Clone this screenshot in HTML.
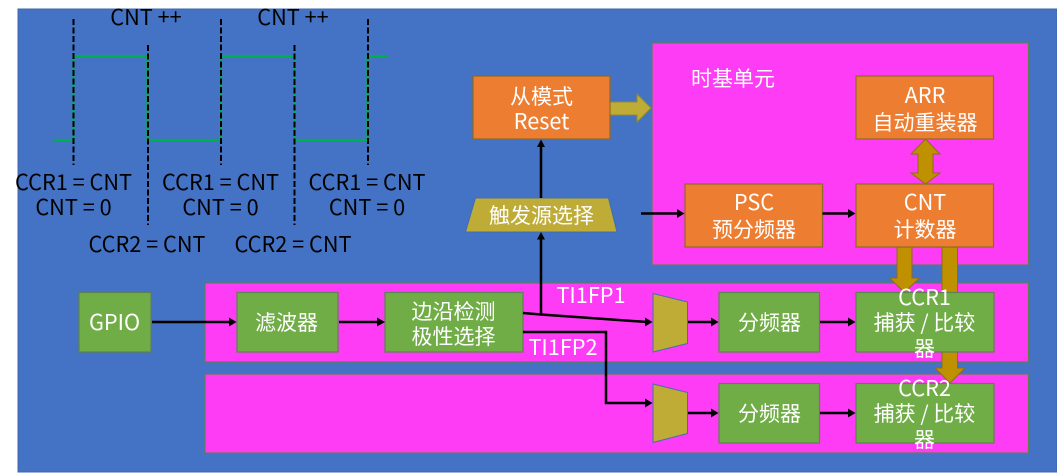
<!DOCTYPE html>
<html><head><meta charset="utf-8">
<style>
html,body{margin:0;padding:0;background:#fff;width:1057px;height:473px;overflow:hidden}
svg{display:block}
text{font-family:"Noto Sans CJK SC","Liberation Sans",sans-serif;font-size:21.7px;text-anchor:middle}
text.c{font-family:"WenQuanYi Zen Hei","Noto Sans CJK SC",sans-serif;font-size:21px}
.w{fill:#fff}.k{fill:#000}
.o{fill:#ed7d31;stroke:#8f6a22;stroke-width:1.2}
.g{fill:#70ad47;stroke:#5f7f55;stroke-width:1.2}
.m{fill:#ff3cf5;stroke:#5f7f55;stroke-width:1.2}
.t{fill:#bfac37;stroke:#3f6fb0;stroke-width:1}
.d{fill:#bf9000;stroke:#8f6a22;stroke-width:1}
.l{fill:none;stroke:#000;stroke-width:2.5}
.h{fill:#000}
.ds{stroke:#000;stroke-width:2;stroke-dasharray:6 2.5;fill:none}
</style></head><body>
<svg width="1057" height="473" viewBox="0 0 1057 473" xmlns="http://www.w3.org/2000/svg">
<rect x="18" y="9" width="1039" height="463" fill="#4472c4" stroke="#3f67ae" stroke-width="1"/>

<!-- waveform -->
<path d="M54 140H73.5V56H147.5V140H221V56H294.5V140H367.5V56H388" fill="none" stroke="#00b050" stroke-width="2.2"/>
<path class="ds" d="M73.5 19V165M148 45V225M221 19V165M294.5 45V225M368 19V165"/>
<text class="k" x="146" y="25">CNT ++</text>
<text class="k" x="293" y="25">CNT ++</text>
<text class="k" x="73.5" y="190">CCR1 = CNT</text>
<text class="k" x="73.5" y="215">CNT = 0</text>
<text class="k" x="220.5" y="190">CCR1 = CNT</text>
<text class="k" x="220.5" y="215">CNT = 0</text>
<text class="k" x="367" y="190">CCR1 = CNT</text>
<text class="k" x="367" y="215">CNT = 0</text>
<text class="k" x="147" y="252">CCR2 = CNT</text>
<text class="k" x="293" y="252">CCR2 = CNT</text>

<!-- containers -->
<rect class="m" x="652" y="43" width="376.5" height="222"/>
<rect class="m" x="205" y="283" width="823.5" height="79"/>
<rect class="m" x="205" y="374" width="823.5" height="79"/>

<!-- gold arrows behind boxes -->
<path class="t" style="stroke:#8f8a30" d="M610 102H637V94L651 108L637 122V115H610Z"/>
<path class="d" d="M925.5 139L940 154H933V173H940L925.5 184L911 173H918V154H911Z"/>
<path class="d" d="M897 247H912V278H919.5L904.5 292.5L889.5 278H897Z"/>
<path class="d" d="M942 247H957.5V368H965L950 383L935 368H942Z"/>

<!-- boxes -->
<rect class="o" x="473" y="76" width="137" height="63"/>
<text class="w c" x="541.5" y="104">从模式</text>
<text class="w" x="541.5" y="129">Reset</text>
<rect class="o" x="856" y="76" width="137.5" height="63"/>
<text class="w" x="925" y="103">ARR</text>
<text class="w c" x="925" y="130">自动重装器</text>
<rect class="o" x="685" y="184" width="137.5" height="63"/>
<text class="w" x="754" y="210">PSC</text>
<text class="w c" x="754" y="237">预分频器</text>
<rect class="o" x="856" y="184" width="137.5" height="63"/>
<text class="w" x="925" y="210">CNT</text>
<text class="w c" x="925" y="237">计数器</text>
<text class="w c" x="733" y="86">时基单元</text>

<path class="t" d="M475.5 198H608.5L617 232H465.5Z"/>
<text class="w c" x="541.5" y="223">触发源选择</text>

<rect class="g" x="79" y="292.5" width="72" height="59.5"/>
<text class="w" x="114.5" y="330">GPIO</text>
<rect class="g" x="237" y="292.5" width="101" height="59.5"/>
<text class="w c" x="286.5" y="330">滤波器</text>
<rect class="g" x="385" y="292.5" width="138" height="59.5"/>
<text class="w c" x="453.5" y="319">边沿检测</text>
<text class="w c" x="453.5" y="344">极性选择</text>

<path class="t" d="M653 293.5L687.5 302V343.5L653 352Z"/>
<path class="t" d="M653 384L687.5 392.5V433.5L653 442.5Z"/>

<rect class="g" x="719" y="292.5" width="100.5" height="59.5"/>
<text class="w c" x="769.5" y="330">分频器</text>
<rect class="g" x="719" y="383.5" width="100.5" height="59.5"/>
<text class="w c" x="769.5" y="421">分频器</text>
<rect class="g" x="856" y="292.5" width="138" height="59.5"/>
<text class="w" x="924.5" y="305">CCR1</text>
<text class="w c" x="924.5" y="330">捕获 / 比较</text>
<text class="w c" x="924.5" y="356">器</text>
<rect class="g" x="856" y="383.5" width="138" height="59.5"/>
<text class="w" x="924.5" y="396">CCR2</text>
<text class="w c" x="924.5" y="421">捕获 / 比较</text>
<text class="w c" x="924.5" y="447">器</text>

<text class="w" x="591" y="303">TI1FP1</text>
<text class="w" x="563" y="355">TI1FP2</text>

<!-- connectors -->
<path class="l" d="M152 322H231M339 322H380M523 313L541 314.5L647 322M541 314V238M541 198V146M523 332H606V403H647M688 322H714M820 322H851M688 413H714M820 413H851M641 213.5H680M822.5 213.5H851"/>
<path class="h" d="M236.5 322L229 317.5V326.5ZM385 322L377 317.5V326.5ZM652.5 322L645 317.5V326.5ZM652.5 403L645 398.5V407.5ZM718.5 322L711 317.5V326.5ZM718.5 413L711 408.5V417.5ZM855.5 322L848 317.5V326.5ZM855.5 413L848 408.5V417.5ZM684.5 213.5L677 209V218ZM855.5 213.5L848 209V218ZM541 232L537 239.5H545ZM541 139.5L537 147H545Z"/>
</svg>
</body></html>
